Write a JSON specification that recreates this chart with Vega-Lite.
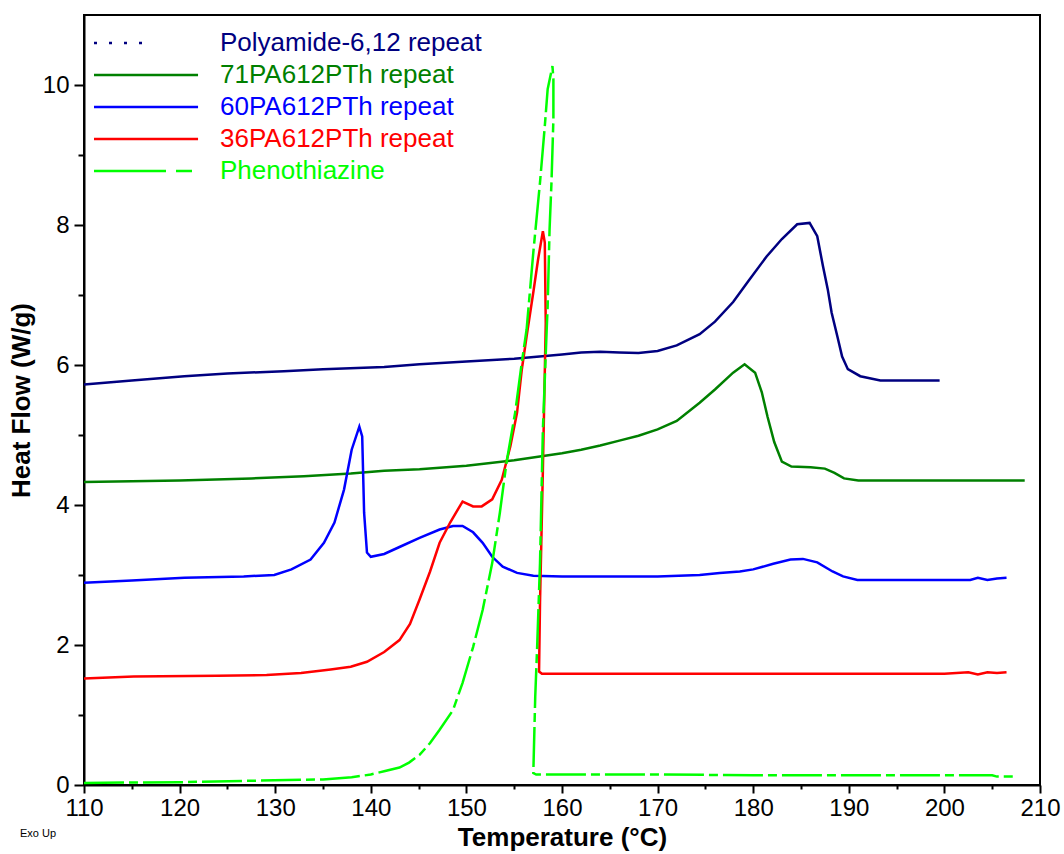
{
  "$schema": "https://vega.github.io/schema/vega-lite/v6.json",
  "width": 956,
  "height": 770,
  "autosize": {"type": "none"},
  "padding": {"left": 84, "top": 15, "right": 24, "bottom": 69},
  "background": "white",
  "config": {
    "view": {"stroke": "black", "strokeWidth": 2},
    "font": "Liberation Sans"
  },
  "title": {
    "text": "Exo Up",
    "orient": "bottom",
    "anchor": "start",
    "frame": "group",
    "fontSize": 11,
    "fontWeight": "normal",
    "font": "Liberation Sans",
    "color": "black",
    "dx": -64,
    "offset": -22
  },
  "data": {
    "values": [
      {"series": "Polyamide-6,12 repeat", "T": 110, "hf": 5.72},
      {"series": "Polyamide-6,12 repeat", "T": 115, "hf": 5.78},
      {"series": "Polyamide-6,12 repeat", "T": 120.5, "hf": 5.84},
      {"series": "Polyamide-6,12 repeat", "T": 125, "hf": 5.88},
      {"series": "Polyamide-6,12 repeat", "T": 130.9, "hf": 5.91},
      {"series": "Polyamide-6,12 repeat", "T": 135, "hf": 5.94},
      {"series": "Polyamide-6,12 repeat", "T": 141.4, "hf": 5.97},
      {"series": "Polyamide-6,12 repeat", "T": 145.1, "hf": 6.01},
      {"series": "Polyamide-6,12 repeat", "T": 150, "hf": 6.05},
      {"series": "Polyamide-6,12 repeat", "T": 155, "hf": 6.09},
      {"series": "Polyamide-6,12 repeat", "T": 160, "hf": 6.15},
      {"series": "Polyamide-6,12 repeat", "T": 162, "hf": 6.18},
      {"series": "Polyamide-6,12 repeat", "T": 164, "hf": 6.19},
      {"series": "Polyamide-6,12 repeat", "T": 166, "hf": 6.18},
      {"series": "Polyamide-6,12 repeat", "T": 168, "hf": 6.17},
      {"series": "Polyamide-6,12 repeat", "T": 170, "hf": 6.2},
      {"series": "Polyamide-6,12 repeat", "T": 172, "hf": 6.28},
      {"series": "Polyamide-6,12 repeat", "T": 174.4, "hf": 6.44},
      {"series": "Polyamide-6,12 repeat", "T": 176, "hf": 6.62},
      {"series": "Polyamide-6,12 repeat", "T": 177.9, "hf": 6.9},
      {"series": "Polyamide-6,12 repeat", "T": 179.5, "hf": 7.2},
      {"series": "Polyamide-6,12 repeat", "T": 181.4, "hf": 7.55},
      {"series": "Polyamide-6,12 repeat", "T": 183, "hf": 7.8},
      {"series": "Polyamide-6,12 repeat", "T": 184.6, "hf": 8.01},
      {"series": "Polyamide-6,12 repeat", "T": 185.9, "hf": 8.03},
      {"series": "Polyamide-6,12 repeat", "T": 186.7, "hf": 7.84},
      {"series": "Polyamide-6,12 repeat", "T": 187.3, "hf": 7.41},
      {"series": "Polyamide-6,12 repeat", "T": 187.8, "hf": 7.08},
      {"series": "Polyamide-6,12 repeat", "T": 188.2, "hf": 6.75},
      {"series": "Polyamide-6,12 repeat", "T": 188.8, "hf": 6.41},
      {"series": "Polyamide-6,12 repeat", "T": 189.3, "hf": 6.12},
      {"series": "Polyamide-6,12 repeat", "T": 189.9, "hf": 5.94},
      {"series": "Polyamide-6,12 repeat", "T": 191.2, "hf": 5.84},
      {"series": "Polyamide-6,12 repeat", "T": 193.3, "hf": 5.78},
      {"series": "Polyamide-6,12 repeat", "T": 199.5, "hf": 5.78},

      {"series": "71PA612PTh repeat", "T": 110, "hf": 4.33},
      {"series": "71PA612PTh repeat", "T": 120, "hf": 4.35},
      {"series": "71PA612PTh repeat", "T": 127.5, "hf": 4.38},
      {"series": "71PA612PTh repeat", "T": 133, "hf": 4.41},
      {"series": "71PA612PTh repeat", "T": 137.9, "hf": 4.45},
      {"series": "71PA612PTh repeat", "T": 141.4, "hf": 4.49},
      {"series": "71PA612PTh repeat", "T": 145.1, "hf": 4.51},
      {"series": "71PA612PTh repeat", "T": 150, "hf": 4.56},
      {"series": "71PA612PTh repeat", "T": 155, "hf": 4.64},
      {"series": "71PA612PTh repeat", "T": 160, "hf": 4.74},
      {"series": "71PA612PTh repeat", "T": 162, "hf": 4.79},
      {"series": "71PA612PTh repeat", "T": 164, "hf": 4.85},
      {"series": "71PA612PTh repeat", "T": 166, "hf": 4.92},
      {"series": "71PA612PTh repeat", "T": 168, "hf": 4.99},
      {"series": "71PA612PTh repeat", "T": 170, "hf": 5.08},
      {"series": "71PA612PTh repeat", "T": 172, "hf": 5.2},
      {"series": "71PA612PTh repeat", "T": 174.4, "hf": 5.46},
      {"series": "71PA612PTh repeat", "T": 176, "hf": 5.65},
      {"series": "71PA612PTh repeat", "T": 177.9, "hf": 5.89},
      {"series": "71PA612PTh repeat", "T": 179.1, "hf": 6.01},
      {"series": "71PA612PTh repeat", "T": 180.2, "hf": 5.89},
      {"series": "71PA612PTh repeat", "T": 180.9, "hf": 5.61},
      {"series": "71PA612PTh repeat", "T": 181.5, "hf": 5.26},
      {"series": "71PA612PTh repeat", "T": 182.2, "hf": 4.9},
      {"series": "71PA612PTh repeat", "T": 183, "hf": 4.62},
      {"series": "71PA612PTh repeat", "T": 184, "hf": 4.55},
      {"series": "71PA612PTh repeat", "T": 186, "hf": 4.54},
      {"series": "71PA612PTh repeat", "T": 187.5, "hf": 4.52},
      {"series": "71PA612PTh repeat", "T": 188.5, "hf": 4.46},
      {"series": "71PA612PTh repeat", "T": 189.5, "hf": 4.38},
      {"series": "71PA612PTh repeat", "T": 191, "hf": 4.35},
      {"series": "71PA612PTh repeat", "T": 208.4, "hf": 4.35},

      {"series": "60PA612PTh repeat", "T": 110, "hf": 2.89},
      {"series": "60PA612PTh repeat", "T": 115, "hf": 2.92},
      {"series": "60PA612PTh repeat", "T": 120.5, "hf": 2.96},
      {"series": "60PA612PTh repeat", "T": 126.7, "hf": 2.98},
      {"series": "60PA612PTh repeat", "T": 129.9, "hf": 3.0},
      {"series": "60PA612PTh repeat", "T": 131.7, "hf": 3.08},
      {"series": "60PA612PTh repeat", "T": 133.7, "hf": 3.22},
      {"series": "60PA612PTh repeat", "T": 135.1, "hf": 3.46},
      {"series": "60PA612PTh repeat", "T": 136.2, "hf": 3.75},
      {"series": "60PA612PTh repeat", "T": 137.2, "hf": 4.22},
      {"series": "60PA612PTh repeat", "T": 138.0, "hf": 4.79},
      {"series": "60PA612PTh repeat", "T": 138.8, "hf": 5.12},
      {"series": "60PA612PTh repeat", "T": 139.1, "hf": 4.98},
      {"series": "60PA612PTh repeat", "T": 139.3, "hf": 3.89},
      {"series": "60PA612PTh repeat", "T": 139.6, "hf": 3.32},
      {"series": "60PA612PTh repeat", "T": 140.0, "hf": 3.26},
      {"series": "60PA612PTh repeat", "T": 141.4, "hf": 3.3},
      {"series": "60PA612PTh repeat", "T": 143, "hf": 3.4},
      {"series": "60PA612PTh repeat", "T": 145.1, "hf": 3.53},
      {"series": "60PA612PTh repeat", "T": 147.2, "hf": 3.65},
      {"series": "60PA612PTh repeat", "T": 148.6, "hf": 3.7},
      {"series": "60PA612PTh repeat", "T": 149.6, "hf": 3.7},
      {"series": "60PA612PTh repeat", "T": 150.7, "hf": 3.61},
      {"series": "60PA612PTh repeat", "T": 151.7, "hf": 3.46},
      {"series": "60PA612PTh repeat", "T": 152.7, "hf": 3.26},
      {"series": "60PA612PTh repeat", "T": 153.8, "hf": 3.12},
      {"series": "60PA612PTh repeat", "T": 155.3, "hf": 3.03},
      {"series": "60PA612PTh repeat", "T": 157, "hf": 2.99},
      {"series": "60PA612PTh repeat", "T": 160, "hf": 2.98},
      {"series": "60PA612PTh repeat", "T": 170, "hf": 2.98},
      {"series": "60PA612PTh repeat", "T": 174.4, "hf": 3.0},
      {"series": "60PA612PTh repeat", "T": 176.5, "hf": 3.03},
      {"series": "60PA612PTh repeat", "T": 178.6, "hf": 3.05},
      {"series": "60PA612PTh repeat", "T": 180, "hf": 3.08},
      {"series": "60PA612PTh repeat", "T": 182.1, "hf": 3.16},
      {"series": "60PA612PTh repeat", "T": 183.9, "hf": 3.22},
      {"series": "60PA612PTh repeat", "T": 185.2, "hf": 3.23},
      {"series": "60PA612PTh repeat", "T": 186.7, "hf": 3.18},
      {"series": "60PA612PTh repeat", "T": 188.3, "hf": 3.05},
      {"series": "60PA612PTh repeat", "T": 189.4, "hf": 2.98},
      {"series": "60PA612PTh repeat", "T": 190.9, "hf": 2.93},
      {"series": "60PA612PTh repeat", "T": 202.7, "hf": 2.93},
      {"series": "60PA612PTh repeat", "T": 203.5, "hf": 2.96},
      {"series": "60PA612PTh repeat", "T": 204.5, "hf": 2.93},
      {"series": "60PA612PTh repeat", "T": 205.5, "hf": 2.95},
      {"series": "60PA612PTh repeat", "T": 206.5, "hf": 2.96},

      {"series": "36PA612PTh repeat", "T": 110, "hf": 1.52},
      {"series": "36PA612PTh repeat", "T": 115.2, "hf": 1.55},
      {"series": "36PA612PTh repeat", "T": 123.9, "hf": 1.56},
      {"series": "36PA612PTh repeat", "T": 129.1, "hf": 1.57},
      {"series": "36PA612PTh repeat", "T": 132.7, "hf": 1.6},
      {"series": "36PA612PTh repeat", "T": 135.8, "hf": 1.65},
      {"series": "36PA612PTh repeat", "T": 137.9, "hf": 1.69},
      {"series": "36PA612PTh repeat", "T": 139.6, "hf": 1.76},
      {"series": "36PA612PTh repeat", "T": 141.4, "hf": 1.9},
      {"series": "36PA612PTh repeat", "T": 143, "hf": 2.07},
      {"series": "36PA612PTh repeat", "T": 144.1, "hf": 2.3},
      {"series": "36PA612PTh repeat", "T": 145.1, "hf": 2.65},
      {"series": "36PA612PTh repeat", "T": 146.2, "hf": 3.05},
      {"series": "36PA612PTh repeat", "T": 147.2, "hf": 3.46},
      {"series": "36PA612PTh repeat", "T": 148.3, "hf": 3.75},
      {"series": "36PA612PTh repeat", "T": 149.6, "hf": 4.05},
      {"series": "36PA612PTh repeat", "T": 150.7, "hf": 3.98},
      {"series": "36PA612PTh repeat", "T": 151.6, "hf": 3.98},
      {"series": "36PA612PTh repeat", "T": 152.7, "hf": 4.08},
      {"series": "36PA612PTh repeat", "T": 153.7, "hf": 4.36},
      {"series": "36PA612PTh repeat", "T": 154.6, "hf": 4.84},
      {"series": "36PA612PTh repeat", "T": 155.3, "hf": 5.32},
      {"series": "36PA612PTh repeat", "T": 155.8, "hf": 5.94},
      {"series": "36PA612PTh repeat", "T": 156.3, "hf": 6.41},
      {"series": "36PA612PTh repeat", "T": 157.0, "hf": 7.04},
      {"series": "36PA612PTh repeat", "T": 157.5, "hf": 7.51},
      {"series": "36PA612PTh repeat", "T": 158.0, "hf": 7.91},
      {"series": "36PA612PTh repeat", "T": 158.2, "hf": 7.75},
      {"series": "36PA612PTh repeat", "T": 158.3, "hf": 6.6},
      {"series": "36PA612PTh repeat", "T": 158.0, "hf": 4.5},
      {"series": "36PA612PTh repeat", "T": 157.7, "hf": 2.6},
      {"series": "36PA612PTh repeat", "T": 157.6, "hf": 1.62},
      {"series": "36PA612PTh repeat", "T": 157.9, "hf": 1.59},
      {"series": "36PA612PTh repeat", "T": 170, "hf": 1.59},
      {"series": "36PA612PTh repeat", "T": 200, "hf": 1.59},
      {"series": "36PA612PTh repeat", "T": 202.5, "hf": 1.61},
      {"series": "36PA612PTh repeat", "T": 203.5, "hf": 1.58},
      {"series": "36PA612PTh repeat", "T": 204.5, "hf": 1.61},
      {"series": "36PA612PTh repeat", "T": 205.5, "hf": 1.6},
      {"series": "36PA612PTh repeat", "T": 206.5, "hf": 1.61},

      {"series": "Phenothiazine", "T": 110, "hf": 0.03},
      {"series": "Phenothiazine", "T": 120, "hf": 0.04},
      {"series": "Phenothiazine", "T": 127, "hf": 0.06},
      {"series": "Phenothiazine", "T": 135, "hf": 0.08},
      {"series": "Phenothiazine", "T": 138, "hf": 0.11},
      {"series": "Phenothiazine", "T": 140, "hf": 0.15},
      {"series": "Phenothiazine", "T": 141.5, "hf": 0.2},
      {"series": "Phenothiazine", "T": 143, "hf": 0.25},
      {"series": "Phenothiazine", "T": 144, "hf": 0.32},
      {"series": "Phenothiazine", "T": 145.1, "hf": 0.43},
      {"series": "Phenothiazine", "T": 146.2, "hf": 0.6},
      {"series": "Phenothiazine", "T": 147.2, "hf": 0.79},
      {"series": "Phenothiazine", "T": 148.6, "hf": 1.07},
      {"series": "Phenothiazine", "T": 149.6, "hf": 1.46},
      {"series": "Phenothiazine", "T": 150.7, "hf": 1.97},
      {"series": "Phenothiazine", "T": 151.7, "hf": 2.5},
      {"series": "Phenothiazine", "T": 152.7, "hf": 3.17},
      {"series": "Phenothiazine", "T": 153.5, "hf": 3.89},
      {"series": "Phenothiazine", "T": 154.2, "hf": 4.61},
      {"series": "Phenothiazine", "T": 155.1, "hf": 5.32},
      {"series": "Phenothiazine", "T": 155.8, "hf": 6.04},
      {"series": "Phenothiazine", "T": 156.3, "hf": 6.51},
      {"series": "Phenothiazine", "T": 157.0, "hf": 7.61},
      {"series": "Phenothiazine", "T": 157.7, "hf": 8.61},
      {"series": "Phenothiazine", "T": 158.2, "hf": 9.41},
      {"series": "Phenothiazine", "T": 158.5, "hf": 9.94},
      {"series": "Phenothiazine", "T": 159.0, "hf": 10.27},
      {"series": "Phenothiazine", "T": 159.1, "hf": 10.09},
      {"series": "Phenothiazine", "T": 159.1, "hf": 9.51},
      {"series": "Phenothiazine", "T": 158.9, "hf": 8.61},
      {"series": "Phenothiazine", "T": 158.7, "hf": 7.94},
      {"series": "Phenothiazine", "T": 158.5, "hf": 6.84},
      {"series": "Phenothiazine", "T": 158.4, "hf": 6.51},
      {"series": "Phenothiazine", "T": 158.0, "hf": 5.08},
      {"series": "Phenothiazine", "T": 157.7, "hf": 3.17},
      {"series": "Phenothiazine", "T": 157.4, "hf": 1.97},
      {"series": "Phenothiazine", "T": 157.2, "hf": 1.26},
      {"series": "Phenothiazine", "T": 157.0, "hf": 0.17},
      {"series": "Phenothiazine", "T": 157.3, "hf": 0.15},
      {"series": "Phenothiazine", "T": 170, "hf": 0.15},
      {"series": "Phenothiazine", "T": 180, "hf": 0.14},
      {"series": "Phenothiazine", "T": 190, "hf": 0.14},
      {"series": "Phenothiazine", "T": 205, "hf": 0.14},
      {"series": "Phenothiazine", "T": 205.5, "hf": 0.12},
      {"series": "Phenothiazine", "T": 207.6, "hf": 0.12}
    ]
  },
  "encoding": {
    "x": {
      "field": "T",
      "type": "quantitative",
      "scale": {"domain": [110, 210], "nice": false, "zero": false},
      "axis": {
        "title": "Temperature (°C)",
        "titleFont": "Liberation Sans",
        "titleFontSize": 26,
        "titleFontWeight": "bold",
        "titleColor": "black",
        "titlePadding": 4,
        "values": [110, 115, 120, 125, 130, 135, 140, 145, 150, 155, 160, 165, 170, 175, 180, 185, 190, 195, 200, 205, 210],
        "labelExpr": "datum.value % 10 === 0 ? datum.label : ''",
        "labelFont": "Liberation Sans",
        "labelFontSize": 24,
        "labelColor": "black",
        "labelPadding": 3,
        "labelFlush": false,
        "labelOverlap": false,
        "tickSize": {"condition": {"test": "datum.value % 10 === 0", "value": 8}, "value": 4},
        "tickColor": "black",
        "tickWidth": 2,
        "domainColor": "black",
        "domainWidth": 2,
        "grid": false
      }
    },
    "y": {
      "field": "hf",
      "type": "quantitative",
      "scale": {"domain": [0, 11], "nice": false, "zero": false},
      "axis": {
        "title": "Heat Flow (W/g)",
        "titleFont": "Liberation Sans",
        "titleFontSize": 26,
        "titleFontWeight": "bold",
        "titleColor": "black",
        "titlePadding": 8,
        "values": [0, 1, 2, 3, 4, 5, 6, 7, 8, 9, 10],
        "labelExpr": "datum.value % 2 === 0 ? datum.label : ''",
        "labelFont": "Liberation Sans",
        "labelFontSize": 24,
        "labelColor": "black",
        "labelPadding": 5,
        "labelFlush": false,
        "labelOverlap": false,
        "tickSize": {"condition": {"test": "datum.value % 2 === 0", "value": 10}, "value": 6},
        "tickColor": "black",
        "tickWidth": 2,
        "domainColor": "black",
        "domainWidth": 2,
        "grid": false
      }
    },
    "color": {
      "field": "series",
      "type": "nominal",
      "scale": {
        "domain": ["Polyamide-6,12 repeat", "71PA612PTh repeat", "60PA612PTh repeat", "36PA612PTh repeat", "Phenothiazine"],
        "range": ["#000080", "#008000", "#0000FF", "#FF0000", "#00FF00"]
      },
      "legend": {
        "title": null,
        "orient": "none",
        "legendX": -3,
        "legendY": 15,
        "padding": 0,
        "symbolType": "M0,0H10",
        "symbolSize": 433,
        "symbolStrokeWidth": 2.5,
        "labelFont": "Liberation Sans",
        "labelFontSize": 26,
        "labelOffset": 113,
        "labelLimit": 400,
        "rowPadding": 6,
        "encode": {
          "labels": {"update": {"fill": {"signal": "scale('color', datum.value)"}}},
          "symbols": {"update": {"strokeDash": {"signal": "datum.index === 0 ? [3, 12, 3, 12, 3, 12, 3, 200] : datum.index === 4 ? [72, 10, 16, 30] : [1, 0]"}}}
        }
      }
    },
    "order": {"value": null}
  },
  "layer": [
    {
      "transform": [{"filter": "datum.series !== 'Phenothiazine'"}],
      "mark": {"type": "line", "strokeWidth": 2.5, "clip": true}
    },
    {
      "transform": [{"filter": "datum.series === 'Phenothiazine'"}],
      "mark": {"type": "line", "strokeWidth": 2.5, "clip": true, "strokeDash": [40, 5, 9, 5]}
    }
  ]
}
